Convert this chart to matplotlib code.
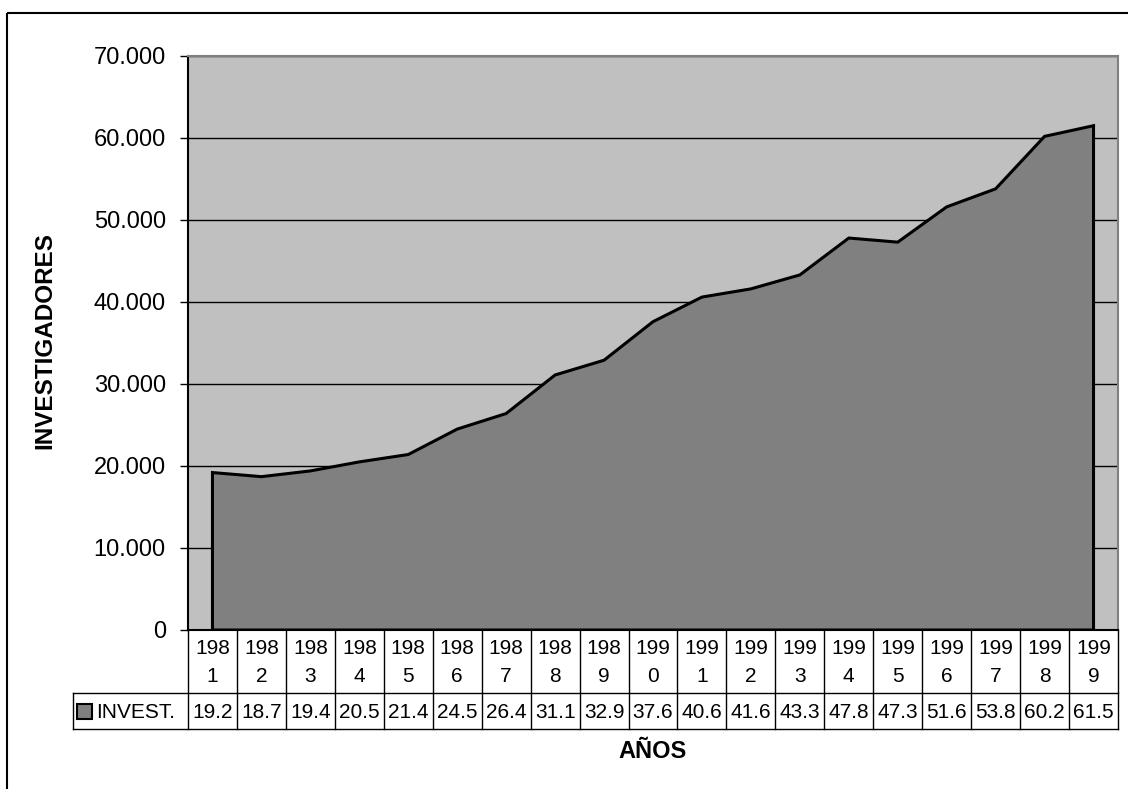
import matplotlib
matplotlib.use("Agg")
import matplotlib.pyplot as plt
from matplotlib.ticker import FuncFormatter, MultipleLocator
from matplotlib.patches import Rectangle

plt.rcParams['font.family'] = ['Liberation Sans', 'DejaVu Sans']

# ---- data ----
years = [1981, 1982, 1983, 1984, 1985, 1986, 1987, 1988, 1989, 1990,
         1991, 1992, 1993, 1994, 1995, 1996, 1997, 1998, 1999]
invest = [19.2, 18.7, 19.4, 20.5, 21.4, 24.5, 26.4, 31.1, 32.9, 37.6,
          40.6, 41.6, 43.3, 47.8, 47.3, 51.6, 53.8, 60.2, 61.5]
series_name = "INVEST."
x_label = "AÑOS"
y_label = "INVESTIGADORES"

W, H = 1128, 789
fig = plt.figure(figsize=(W / 100, H / 100), dpi=100)
fig.patch.set_facecolor('white')

# plot area in pixels
L, R, T, B = 188, 1118, 56, 630
ax = fig.add_axes([L / W, 1 - B / H, (R - L) / W, (B - T) / H])
ax.set_facecolor('#c0c0c0')
n = len(years)
ax.set_xlim(-0.5, n - 0.5)
ax.set_ylim(0, 70000)

xs = list(range(n))
vals = [v * 1000 for v in invest]
poly_x = [xs[0]] + xs + [xs[-1]]
poly_y = [0] + vals + [0]
ax.fill(poly_x, poly_y, facecolor='#808080', edgecolor='black', linewidth=2.2,
        joinstyle='miter', zorder=3)

ax.yaxis.set_major_locator(MultipleLocator(10000))
ax.yaxis.set_major_formatter(FuncFormatter(lambda v, p: f"{v:,.0f}".replace(",", ".")))
ax.grid(axis='y', color='black', linewidth=1.0, zorder=1)
ax.set_axisbelow(True)
ax.set_xticks([])
ax.tick_params(axis='y', direction='out', length=6, width=1, labelsize=17, pad=10,
               colors='black')
for s in ['top', 'right']:
    ax.spines[s].set_color('#808080')
    ax.spines[s].set_linewidth(1.5)
for s in ['left', 'bottom']:
    ax.spines[s].set_color('black')
    ax.spines[s].set_linewidth(1.5)

# overlay in pixel coordinates
ov = fig.add_axes([0, 0, 1, 1], zorder=-1)
ov.set_xlim(0, W)
ov.set_ylim(H, 0)
ov.axis('off')
ov2 = fig.add_axes([0, 0, 1, 1], zorder=5)
ov2.set_xlim(0, W)
ov2.set_ylim(H, 0)
ov2.axis('off')
ov2.patch.set_alpha(0)

# outer frame
ov.add_patch(Rectangle((7, 13), W + 20, H + 20, fill=False, edgecolor='black', linewidth=1.5))

def px(xd):
    return ax.transData.transform((xd, 0))[0]

# table
hdr_top, hdr_bot, val_bot = 630, 693, 729
leg_left = 73
edges = [px(i - 0.5) for i in range(n + 1)]
lw = 1.0
for e in edges:
    ov2.plot([e, e], [hdr_top, val_bot], color='black', linewidth=lw)
ov2.plot([leg_left, edges[-1]], [hdr_bot, hdr_bot], color='black', linewidth=lw)
ov2.plot([leg_left, edges[-1]], [val_bot, val_bot], color='black', linewidth=lw)
ov2.plot([leg_left, leg_left], [hdr_bot, val_bot], color='black', linewidth=lw)

fs_tab = 15
for i, y in enumerate(years):
    cx = px(i)
    s = str(y)
    ov2.text(cx, 649, s[:3], ha='center', va='center', fontsize=fs_tab)
    ov2.text(cx, 677, s[3:], ha='center', va='center', fontsize=fs_tab)
    ov2.text(cx, 712, f"{invest[i]:.1f}", ha='center', va='center', fontsize=fs_tab)

# legend key
ov2.add_patch(Rectangle((77, 704), 15, 15, facecolor='#808080', edgecolor='black', linewidth=1.5))
ov2.text(96, 712, series_name, ha='left', va='center', fontsize=fs_tab)

# axis labels
ov2.text((L + R) / 2, 752, x_label, ha='center', va='center', fontsize=17, fontweight='bold')
ov2.text(45, 340, y_label, ha='center', va='center', fontsize=17.5, fontweight='bold',
         rotation=90)

fig.savefig("out.png", dpi=100)
